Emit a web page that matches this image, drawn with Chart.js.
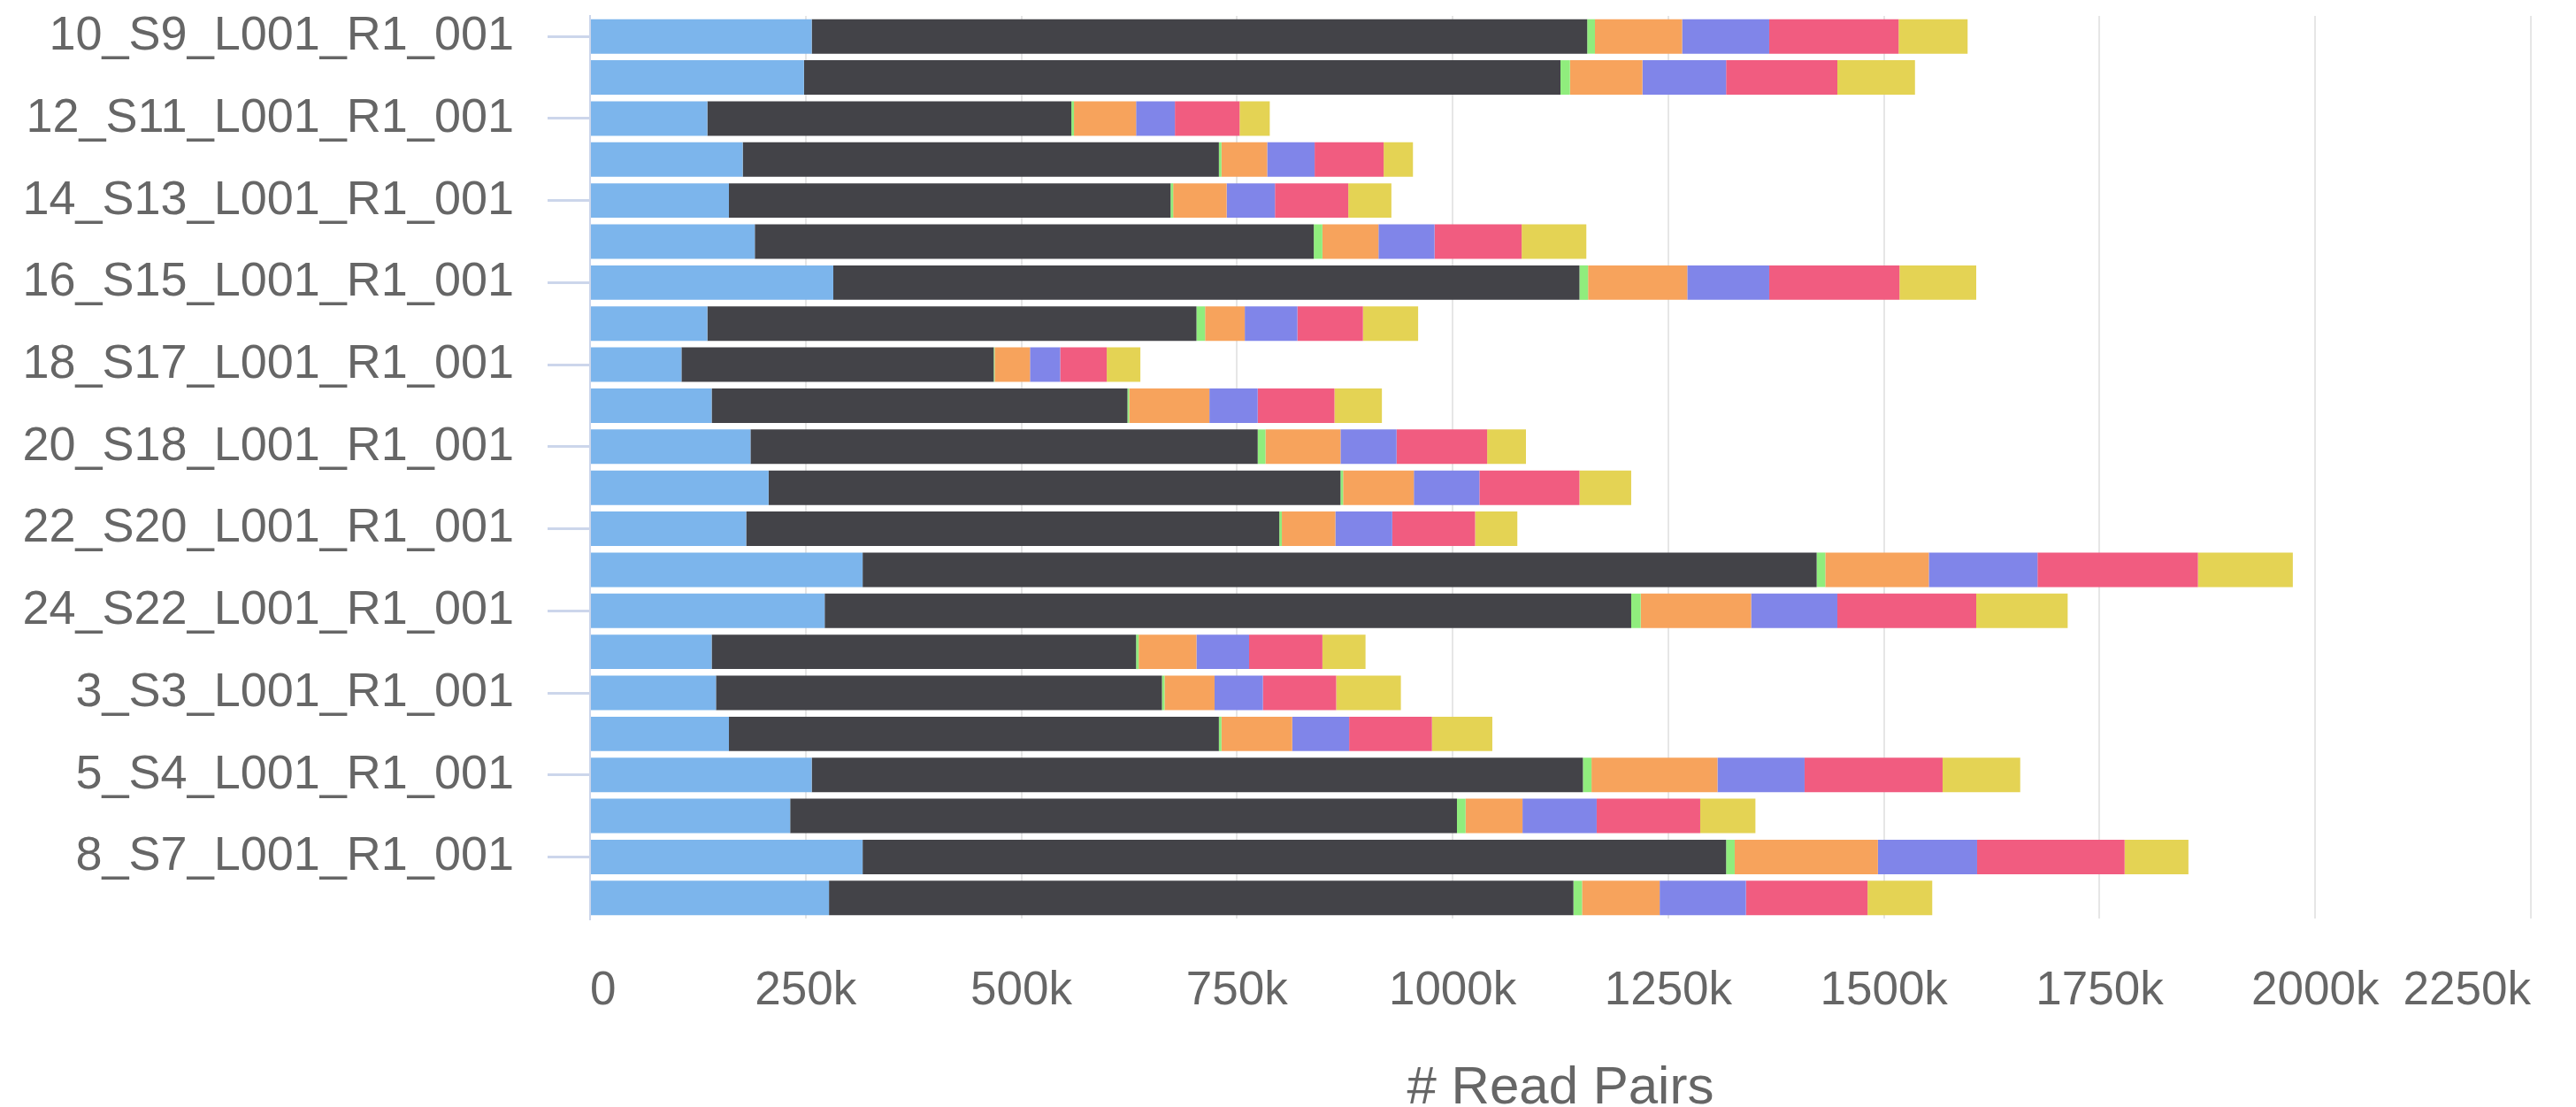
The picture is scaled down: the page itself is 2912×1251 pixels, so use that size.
<!DOCTYPE html>
<html>
<head>
<meta charset="utf-8">
<script src="https://cdn.jsdelivr.net/npm/chart.js@4.4.1/dist/chart.umd.min.js"></script>
<style>
  html, body { margin: 0; padding: 0; background: #ffffff; }
  #wrap { width: 2912px; height: 1251px; }
</style>
</head>
<body>
<div id="wrap"><canvas id="readsChart" width="2912" height="1251"></canvas></div>
<script>
document.addEventListener('DOMContentLoaded', () => {
const sampleNames = [
  '10_S9_L001_R1_001', '11_S10_L001_R1_001', '12_S11_L001_R1_001', '13_S12_L001_R1_001',
  '14_S13_L001_R1_001', '15_S14_L001_R1_001', '16_S15_L001_R1_001', '17_S16_L001_R1_001',
  '18_S17_L001_R1_001', '1_S1_L001_R1_001', '20_S18_L001_R1_001', '21_S19_L001_R1_001',
  '22_S20_L001_R1_001', '23_S21_L001_R1_001', '24_S22_L001_R1_001', '2_S2_L001_R1_001',
  '3_S3_L001_R1_001', '4_S23_L001_R1_001', '5_S4_L001_R1_001', '6_S5_L001_R1_001',
  '8_S7_L001_R1_001', '9_S8_L001_R1_001'
];

// read pair counts per category (thousands), one value per sample
const validPairs      = [257, 248, 136, 177, 161, 191, 282, 136, 106, 141, 186, 207, 181, 316, 272, 141, 146, 161, 257, 232, 316, 277];
const uniqueMapped    = [899, 877, 422, 552, 512, 648, 865, 567, 362, 482, 588, 663, 618, 1106, 935, 492, 517, 568, 894, 773, 1001, 863];
const circularised    = [9, 11, 3, 3, 3, 10, 10, 10, 1, 2, 9, 3, 3, 10, 11, 3, 3, 3, 10, 10, 10, 10];
const danglingEnds    = [101, 84, 72, 53, 62, 65, 115, 46, 41, 93, 87, 82, 62, 120, 128, 67, 58, 82, 146, 66, 166, 90];
const internalFrag    = [101, 97, 45, 55, 56, 65, 95, 61, 35, 56, 65, 76, 66, 126, 100, 61, 56, 66, 101, 86, 115, 100];
const religation      = [150, 129, 75, 80, 85, 101, 151, 76, 54, 89, 105, 116, 96, 186, 161, 85, 85, 96, 160, 120, 171, 141];
const wrongSize       = [80, 90, 35, 34, 50, 75, 89, 64, 39, 55, 45, 60, 49, 110, 106, 50, 75, 70, 90, 64, 74, 75];

const seriesNames  = ['Valid Pairs', 'Unique Mapped', 'Same Fragment - Circularised', 'Same Fragment - Dangling Ends',
                      'Same Fragment - Internal', 'Re-ligation', 'Wrong Size'];
const seriesValues = [validPairs, uniqueMapped, circularised, danglingEnds, internalFrag, religation, wrongSize];
const seriesColors = ['#7cb5ec', '#434348', '#90ed7d', '#f7a35c', '#8085e9', '#f15c80', '#e4d354'];

const xTickValues = [0, 250, 500, 750, 1000, 1250, 1500, 1750, 2000, 2250];

const FONT = "'Liberation Sans', Arial, sans-serif";
const TEXT_COLOR = '#666666';

function buildDatasets() {
  return seriesNames.map((name, si) => ({
    label: name,
    data: seriesValues[si].map(v => v * 1000),
    backgroundColor: seriesColors[si],
    borderWidth: 0,
    barPercentage: 0.84,
    categoryPercentage: 1.0,
  }));
}

const canvas = document.getElementById('readsChart');
if (!canvas || typeof Chart === 'undefined') {
  console.error('Chart.js is missing or the canvas was not found.');
  return;
}

new Chart(canvas.getContext('2d'), {
  type: 'bar',
  data: { labels: sampleNames, datasets: buildDatasets() },
  options: {
    indexAxis: 'y',
    responsive: false,
    animation: false,
    devicePixelRatio: 1,
    layout: { padding: { top: 18, right: 50, left: 0, bottom: 0 } },
    plugins: {
      legend: { display: false },
      tooltip: { enabled: false }
    },
    scales: {
      x: {
        stacked: true,
        type: 'linear',
        min: 0,
        max: xTickValues[xTickValues.length - 1] * 1000,
        afterBuildTicks: (scale) => { scale.ticks = xTickValues.map(v => ({ value: v * 1000 })); },
        afterFit: (scale) => { scale.height = 213; },
        border: { display: false },
        grid: { color: '#e6e6e6', lineWidth: 2, drawTicks: false },
        ticks: {
          autoSkip: false,
          maxRotation: 0,
          align: 'inner',
          padding: 51,
          color: TEXT_COLOR,
          font: { family: FONT, size: 53 },
          callback: (v) => v === 0 ? '0' : (v / 1000) + 'k'
        },
        title: {
          display: true,
          text: '# Read Pairs',
          color: TEXT_COLOR,
          font: { family: FONT, size: 60, lineHeight: 0.67 },
          padding: { top: 0, bottom: 0 }
        }
      },
      y: {
        stacked: true,
        afterFit: (scale) => {
          scale.width = 667;
          scale.paddingTop = 0;
          scale.paddingBottom = 0;
        },
        border: { display: true, color: '#ccd6eb', width: 2 },
        grid: { drawOnChartArea: false, offset: false, color: '#ccd6eb', lineWidth: 3, tickLength: 48 },
        ticks: {
          autoSkip: true,
          maxTicksLimit: 11,
          padding: 38,
          color: TEXT_COLOR,
          font: { family: FONT, size: 54 }
        }
      }
    }
  }
});
});
</script>
</body>
</html>
